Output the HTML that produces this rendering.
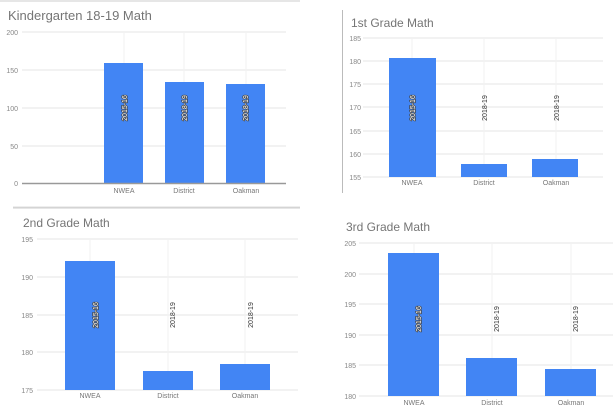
<!DOCTYPE html>
<html><head><style>html,body{margin:0;padding:0;background:#fff}svg{display:block}text{font-family:"Liberation Sans",sans-serif}.o{paint-order:stroke;stroke:#444;stroke-width:1.4;fill:#fff}</style></head><body>
<svg width="613" height="418" viewBox="0 0 613 418" xmlns="http://www.w3.org/2000/svg">
<g stroke="#ccc" stroke-width="1"><line x1="0" y1="1" x2="300" y2="1"/><line x1="13" y1="208" x2="300" y2="208"/><line x1="13" y1="207" x2="300" y2="207" stroke="#ddd"/></g>
<line x1="342.5" y1="10" x2="342.5" y2="193" stroke="#bbb"/>
<!-- Chart 1 -->
<text x="8" y="20" font-size="13" fill="#757575">Kindergarten 18-19 Math</text>
<g stroke="#e6e6e6"><line x1="22" y1="32" x2="286" y2="32"/><line x1="22" y1="70" x2="286" y2="70"/><line x1="22" y1="108" x2="286" y2="108"/><line x1="22" y1="146" x2="286" y2="146"/></g>
<g stroke="#f2f2f2"><line x1="124" y1="32" x2="124" y2="183"/><line x1="184" y1="32" x2="184" y2="183"/><line x1="246" y1="32" x2="246" y2="183"/></g>
<g font-size="7" fill="#888" text-anchor="end"><text x="18" y="35">200</text><text x="18" y="73">150</text><text x="18" y="111">100</text><text x="18" y="149">50</text><text x="18" y="186">0</text></g>
<g fill="#4285f4"><rect x="104" y="63" width="39" height="120"/><rect x="165" y="82" width="39" height="101"/><rect x="226" y="84" width="39" height="99"/></g>
<line x1="22" y1="183.5" x2="286" y2="183.5" stroke="#999" stroke-width="1.5"/>
<g font-size="7" fill="#777" text-anchor="middle"><text x="124" y="193">NWEA</text><text x="184" y="193">District</text><text x="246" y="193">Oakman</text></g>
<g font-size="7" class="o" text-anchor="middle"><text class="o" transform="translate(127,108) rotate(-90)">2015-16</text><text class="o" transform="translate(187,108) rotate(-90)">2018-19</text><text class="o" transform="translate(248,108) rotate(-90)">2018-19</text></g>
<!-- Chart 2 -->
<text x="351" y="27" font-size="12" fill="#757575">1st Grade Math</text>
<g stroke="#e6e6e6"><line x1="363" y1="38" x2="603" y2="38"/><line x1="363" y1="61" x2="603" y2="61"/><line x1="363" y1="84" x2="603" y2="84"/><line x1="363" y1="107" x2="603" y2="107"/><line x1="363" y1="131" x2="603" y2="131"/><line x1="363" y1="154" x2="603" y2="154"/><line x1="363" y1="177" x2="603" y2="177"/></g>
<g stroke="#f2f2f2"><line x1="412" y1="38" x2="412" y2="177"/><line x1="484" y1="38" x2="484" y2="177"/><line x1="556" y1="38" x2="556" y2="177"/></g>
<g font-size="7" fill="#888" text-anchor="end"><text x="361" y="41">185</text><text x="361" y="64">180</text><text x="361" y="87">175</text><text x="361" y="110">170</text><text x="361" y="134">165</text><text x="361" y="157">160</text><text x="361" y="180">155</text></g>
<g fill="#4285f4"><rect x="389" y="58" width="47" height="119"/><rect x="461" y="164" width="46" height="13"/><rect x="532" y="159" width="46" height="18"/></g>
<g font-size="7" fill="#777" text-anchor="middle"><text x="412" y="185">NWEA</text><text x="484" y="185">District</text><text x="556" y="185">Oakman</text></g>
<text class="o" transform="translate(415,108) rotate(-90)" font-size="7" text-anchor="middle">2015-16</text>
<g font-size="7" fill="#333" text-anchor="middle"><text transform="translate(487,108) rotate(-90)">2018-19</text><text transform="translate(559,108) rotate(-90)">2018-19</text></g>
<!-- Chart 3 -->
<text x="23" y="227" font-size="12" fill="#757575">2nd Grade Math</text>
<g stroke="#e6e6e6"><line x1="37" y1="239" x2="298" y2="239"/><line x1="37" y1="277" x2="298" y2="277"/><line x1="37" y1="315" x2="298" y2="315"/><line x1="37" y1="352" x2="298" y2="352"/><line x1="37" y1="390" x2="298" y2="390"/></g>
<g stroke="#f2f2f2"><line x1="90" y1="239" x2="90" y2="390"/><line x1="168" y1="239" x2="168" y2="390"/><line x1="245" y1="239" x2="245" y2="390"/></g>
<g font-size="7" fill="#888" text-anchor="end"><text x="33" y="242">195</text><text x="33" y="280">190</text><text x="33" y="318">185</text><text x="33" y="355">180</text><text x="33" y="393">175</text></g>
<g fill="#4285f4"><rect x="65" y="261" width="50" height="129"/><rect x="143" y="371" width="50" height="19"/><rect x="220" y="364" width="50" height="26"/></g>
<g font-size="7" fill="#777" text-anchor="middle"><text x="90" y="398">NWEA</text><text x="168" y="398">District</text><text x="245" y="398">Oakman</text></g>
<text class="o" transform="translate(98,315) rotate(-90)" font-size="7" text-anchor="middle">2015-16</text>
<g font-size="7" fill="#333" text-anchor="middle"><text transform="translate(175,315) rotate(-90)">2018-19</text><text transform="translate(253,315) rotate(-90)">2018-19</text></g>
<!-- Chart 4 -->
<text x="346" y="231" font-size="12" fill="#757575">3rd Grade Math</text>
<g stroke="#e6e6e6"><line x1="359" y1="243" x2="613" y2="243"/><line x1="359" y1="274" x2="613" y2="274"/><line x1="359" y1="304" x2="613" y2="304"/><line x1="359" y1="335" x2="613" y2="335"/><line x1="359" y1="365" x2="613" y2="365"/><line x1="359" y1="396" x2="613" y2="396"/></g>
<g stroke="#f2f2f2"><line x1="414" y1="243" x2="414" y2="396"/><line x1="492" y1="243" x2="492" y2="396"/><line x1="571" y1="243" x2="571" y2="396"/></g>
<g font-size="7" fill="#888" text-anchor="end"><text x="356" y="246">205</text><text x="356" y="277">200</text><text x="356" y="307">195</text><text x="356" y="338">190</text><text x="356" y="368">185</text><text x="356" y="399">180</text></g>
<g fill="#4285f4"><rect x="388" y="253" width="51" height="143"/><rect x="466" y="358" width="51" height="38"/><rect x="545" y="369" width="51" height="27"/></g>
<g font-size="7" fill="#777" text-anchor="middle"><text x="414" y="405">NWEA</text><text x="492" y="405">District</text><text x="571" y="405">Oakman</text></g>
<text class="o" transform="translate(421,319) rotate(-90)" font-size="7" text-anchor="middle">2015-16</text>
<g font-size="7" fill="#333" text-anchor="middle"><text transform="translate(499,319) rotate(-90)">2018-19</text><text transform="translate(578,319) rotate(-90)">2018-19</text></g>
</svg>
</body></html>
